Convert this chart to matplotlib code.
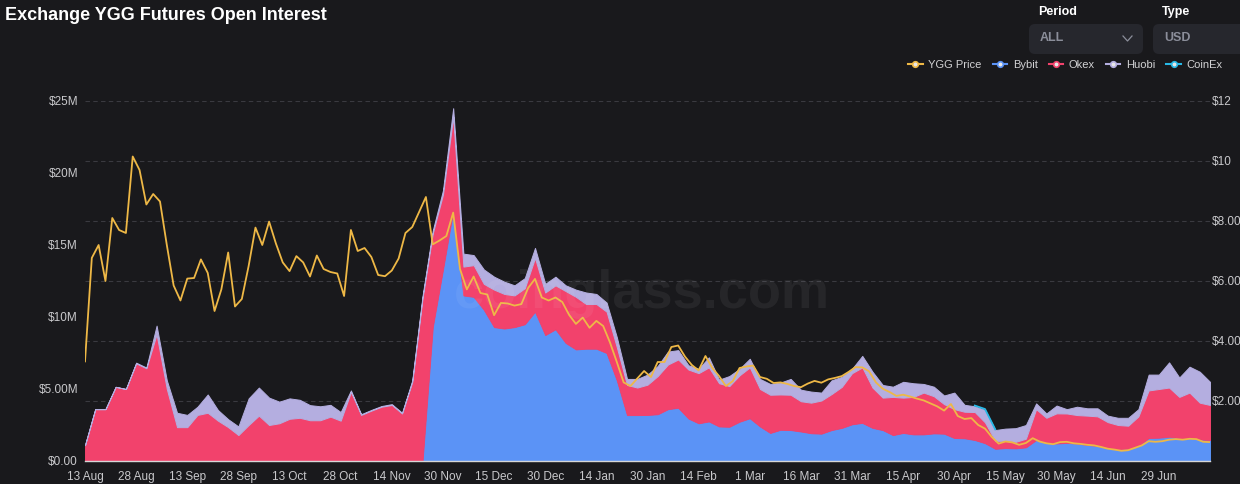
import numpy as np
import matplotlib
matplotlib.use("Agg")
import matplotlib.pyplot as plt
from matplotlib.lines import Line2D
from matplotlib.patches import FancyBboxPatch
from matplotlib.transforms import IdentityTransform

plt.rcParams['font.family'] = ['Liberation Sans', 'DejaVu Sans']

# price: one sample every 2 daily points, starting 13 Aug
price_step = 2
price = [3.32, 6.77, 7.2, 6.0, 8.1, 7.7, 7.6, 10.15, 9.7, 8.55,
         8.9, 8.65, 7.2, 5.85, 5.35, 6.08, 6.1, 6.72, 6.27, 5.0,
         5.72, 6.95, 5.15, 5.4, 6.5, 7.78, 7.2, 7.98, 7.25, 6.62,
         6.33, 6.83, 6.62, 6.15, 6.85, 6.4, 6.3, 6.25, 5.5, 7.7,
         7.0, 7.1, 6.8, 6.2, 6.16, 6.35, 6.75, 7.6, 7.8, 8.3,
         8.8, 7.22, 7.35, 7.5, 8.28, 6.4, 5.72, 6.15, 5.6, 5.55,
         4.86, 5.27, 5.25, 5.18, 5.23, 5.77, 6.07, 5.45, 5.35, 5.45,
         5.3, 4.87, 4.57, 4.78, 4.44, 4.67, 4.5, 3.95, 3.3, 2.62,
         2.5, 2.75, 3.0, 2.8, 3.3, 3.3, 3.8, 3.85, 3.48, 3.2,
         3.02, 3.5, 3.1, 2.83, 2.5, 2.66, 3.1, 3.15, 3.18, 2.8,
         2.74, 2.6, 2.62, 2.57, 2.5, 2.46, 2.58, 2.67, 2.61, 2.72,
         2.77, 2.83, 2.97, 3.13, 3.12, 2.99, 2.62, 2.41, 2.3, 2.17,
         2.21, 2.15, 2.08, 2.02, 1.92, 1.82, 1.68, 1.9, 1.5, 1.4,
         1.43, 1.2, 1.08, 0.8, 0.58, 0.65, 0.62, 0.54, 0.6, 0.76,
         0.65, 0.59, 0.56, 0.63, 0.64, 0.59, 0.57, 0.54, 0.52, 0.47,
         0.41, 0.38, 0.34, 0.36, 0.44, 0.52, 0.66, 0.64, 0.66, 0.71,
         0.73, 0.71, 0.74, 0.73, 0.64, 0.63]

# open interest in $M: one sample every 3 daily points
oi_step = 3
bybit = [0, 0, 0, 0, 0, 0, 0, 0, 0, 0,
         0, 0, 0, 0, 0, 0, 0, 0, 0, 0,
         0, 0, 0, 0, 0, 0, 0, 0, 0, 0,
         0, 0, 0, 0, 9.3, 13.3, 17.4, 11.5, 11.4, 10.5,
         9.3, 9.2, 9.3, 9.5, 10.37, 8.75, 9.15, 8.2, 7.75, 7.8,
         7.8, 7.5, 5.6, 3.19, 3.19, 3.2, 3.25, 3.6, 3.7, 2.95,
         2.62, 2.75, 2.4, 2.38, 2.73, 2.97, 2.4, 1.95, 2.17, 2.15,
         2.05, 1.93, 1.9, 2.15, 2.3, 2.55, 2.65, 2.3, 2.15, 1.8,
         1.95, 1.85, 1.85, 1.92, 1.9, 1.6, 1.58, 1.46, 1.24, 0.85,
         0.9, 0.88, 0.95, 1.46, 1.3, 1.22, 1.26, 1.22, 1.12, 1.05,
         0.9, 0.83, 0.86, 1.05, 1.6, 1.62, 1.69, 1.6, 1.6, 1.5,
         1.46]

okex = [1.1, 3.6, 3.6, 5.15, 5.0, 6.78, 6.44, 8.8, 5.0, 2.35,
        2.35, 3.2, 3.35, 2.8, 2.35, 1.8, 2.5, 3.15, 2.5, 2.62,
        2.93, 3.0, 2.83, 2.83, 3.08, 2.8, 4.8, 3.2, 3.5, 3.77,
        3.89, 3.3, 5.5, 11.3, 6.5, 5.2, 6.5, 2.0, 2.2, 1.8,
        2.6, 2.4, 2.2, 2.5, 3.73, 2.95, 3.05, 3.6, 3.65, 3.1,
        3.1, 2.87, 2.3, 2.09, 1.91, 2.1, 2.65, 3.1, 3.35, 3.4,
        3.48, 3.75, 3.0, 2.82, 3.22, 3.53, 2.6, 2.65, 2.45, 2.45,
        2.1, 2.12, 2.3, 2.5, 2.85, 3.55, 3.85, 2.8, 2.25, 2.65,
        2.45, 2.6, 2.9, 2.58, 2.05, 2.0, 1.84, 1.94, 1.44, 0.55,
        0.5, 0.45, 0.6, 2.14, 1.7, 2.09, 2.04, 1.97, 2.03, 2.05,
        1.8, 1.67, 1.59, 2.05, 3.3, 3.38, 3.41, 2.85, 3.15, 2.55,
        2.43]

huobi = [0, 0, 0, 0, 0, 0.05, 0.05, 0.6, 0.6, 1.0,
         0.85, 0.57, 1.27, 0.74, 0.55, 0.6, 1.85, 1.95, 1.9, 1.5,
         1.42, 1.25, 1.05, 0.97, 0.82, 0.6, 0.1, 0.05, 0.05, 0.05,
         0.06, 0.05, 0.1, 0.15, 0.2, 0.3, 0.6, 0.9, 0.7, 1.0,
         0.9, 0.85, 0.7, 0.7, 0.7, 0.6, 0.6, 0.4, 0.5, 0.8,
         0.7, 0.63, 0.7, 0.42, 0.6, 0.7, 0.7, 0.9, 0.65, 0.3,
         0.3, 0.7, 0.25, 0.7, 0.45, 0.6, 0.7, 0.75, 0.83, 1.1,
         0.8, 0.77, 0.55, 0.95, 0.7, 0.3, 0.8, 1.1, 0.88, 0.71,
         1.1, 0.95, 0.6, 0.66, 0.6, 1.15, 0.48, 0.4, 0.87, 0.75,
         0.85, 0.95, 0.95, 0.4, 0.3, 0.54, 0.3, 0.58, 0.51, 0.56,
         0.45, 0.5, 0.55, 0.5, 1.1, 1.0, 1.75, 1.35, 1.8, 2.15,
         1.61]

# CoinEx only reports for a few samples in May
coinex = [None] * 87 + [0.05, 0.06, 0.05] + [None] * 21

tick_labels = ['13 Aug', '28 Aug', '13 Sep', '28 Sep', '13 Oct', '28 Oct', '14 Nov',
               '30 Nov', '15 Dec', '30 Dec', '14 Jan', '30 Jan', '14 Feb', '1 Mar',
               '16 Mar', '31 Mar', '15 Apr', '30 Apr', '15 May', '30 May', '14 Jun', '29 Jun']
oi_ticks = [0, 5, 10, 15, 20, 25]
oi_labels = ['$0.00', '$5.00M', '$10M', '$15M', '$20M', '$25M']
price_ticks = [0, 2, 4, 6, 8, 10, 12]
price_labels = ['', '$2.00', '$4.00', '$6.00', '$8.00', '$10', '$12']

BG = '#19191c'
C_PRICE = '#eeb846'
C_BYBIT = '#5b93f6'
C_OKEX = '#f2426c'
C_HUOBI = '#b4aee0'
C_COINEX = '#27b8e6'
TXT = '#c9c9cc'

x_oi = np.arange(len(bybit)) * oi_step
x_price = np.arange(len(price)) * price_step
tick_pos = np.arange(len(tick_labels)) * 15

fig = plt.figure(figsize=(12.4, 4.84), dpi=100, facecolor=BG)
ax = fig.add_axes([85 / 1240, 23 / 484, 1125 / 1240, 360 / 484])
ax.set_facecolor(BG)
ax.set_xlim(0, 330)
ax.set_ylim(0, 25)

# dashed grid follows the price axis ticks
for p in price_ticks[1:]:
    ax.axhline(p * 25 / 12, color='#3a3a40', lw=0.8, ls=(0, (4, 3)), zorder=0.5)

colors = [C_BYBIT, C_OKEX, C_HUOBI]
polys = ax.stackplot(x_oi, bybit, okex, huobi, colors=colors, lw=0.7, zorder=1)
for pc, c in zip(polys, colors):
    pc.set_edgecolor(c)

cx = np.array([np.nan if v is None else v for v in coinex])
top = np.array(bybit) + np.array(okex) + np.array(huobi)
ax.plot(x_oi, top + cx, color=C_COINEX, lw=1.3, zorder=2)

ax.set_xticks(tick_pos)
ax.set_xticklabels(tick_labels)
ax.set_yticks(oi_ticks)
ax.set_yticklabels(oi_labels)
ax.tick_params(axis='both', length=0, colors=TXT, labelsize=8.5)
ax.tick_params(axis='x', pad=7)
ax.tick_params(axis='y', pad=5)
for s in ['top', 'left', 'right']:
    ax.spines[s].set_visible(False)
ax.spines['bottom'].set_color('#d6d6d6')
ax.spines['bottom'].set_linewidth(1.0)

ax2 = ax.twinx()
ax2.plot(x_price, price, color=C_PRICE, lw=1.3, zorder=3)
ax2.set_ylim(0, 12)
ax2.set_yticks(price_ticks)
ax2.set_yticklabels(price_labels)
ax2.tick_params(axis='y', length=0, colors=TXT, labelsize=8.5, pad=1)
for s in ax2.spines.values():
    s.set_visible(False)

# watermark
fig.text(642 / 1240, 1 - 308 / 484, 'coinglass.com', fontsize=39, weight='bold',
         color='white', alpha=0.06, ha='center', va='baseline', zorder=10)

# title
fig.text(5 / 1240, 1 - 16 / 484, 'Exchange YGG Futures Open Interest', fontsize=13,
         weight='bold', color='white', va='center')

# period / type selectors
for bx, w in [(1029, 114), (1153, 100)]:
    fig.add_artist(FancyBboxPatch((bx, 484 - 54), w, 30,
                                  boxstyle='round,pad=0,rounding_size=6',
                                  transform=IdentityTransform(),
                                  fc='#26272d', ec='none'))
fig.text(1038 / 1240, 1 - 12 / 484, 'Period', fontsize=9, weight='bold', color='white', va='center')
fig.text(1162 / 1240, 1 - 12 / 484, 'Type', fontsize=9, weight='bold', color='white', va='center')
fig.text(1040 / 1240, 1 - 38 / 484, 'ALL', fontsize=9, weight='bold', color='#8b8e9a', va='center')
fig.text(1164 / 1240, 1 - 38 / 484, 'USD', fontsize=9, weight='bold', color='#8b8e9a', va='center')
fig.add_artist(Line2D([1123, 1127.5, 1132], [484 - 36, 484 - 41, 484 - 36],
                      transform=IdentityTransform(), color='#8b8e9a', lw=0.9))

# legend
names = ['YGG Price', 'Bybit', 'Okex', 'Huobi', 'CoinEx']
lcols = [C_PRICE, C_BYBIT, C_OKEX, C_HUOBI, C_COINEX]
handles = [Line2D([], [], color=c, lw=1.5, marker='o', markersize=4,
                  markerfacecolor='#e8e8e8', markeredgecolor=c, markeredgewidth=1.2)
           for c in lcols]
fig.legend(handles, names, loc='center right', bbox_to_anchor=(1228 / 1240, 1 - 65 / 484),
           ncol=5, frameon=False, fontsize=8, labelcolor='#d2d2d4', handlelength=1.3,
           handletextpad=0.5, columnspacing=1.0, borderpad=0)

fig.savefig('out.png', dpi=100, facecolor=BG)
